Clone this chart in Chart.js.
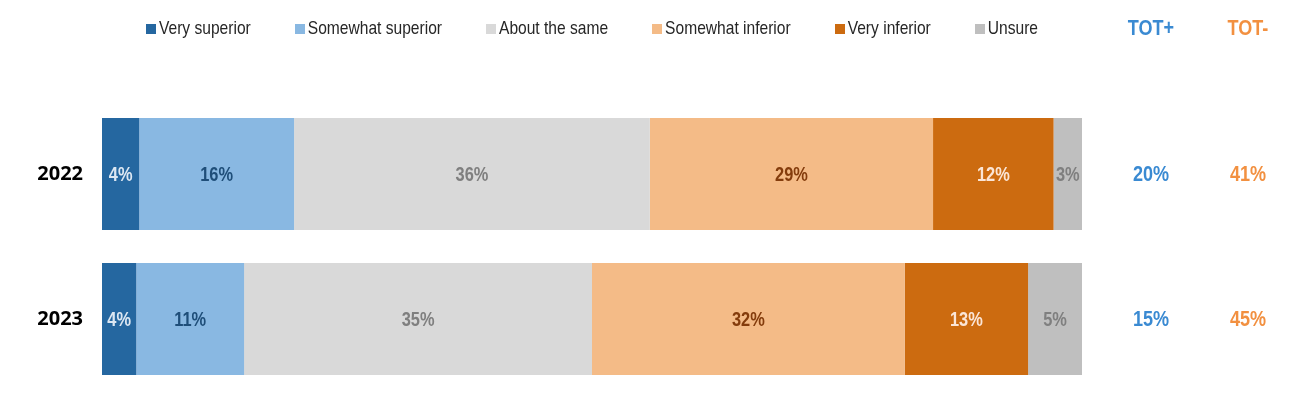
<!DOCTYPE html>
<html>
<head>
<meta charset="utf-8">
<script src="https://cdn.jsdelivr.net/npm/chart.js@4.4.1/dist/chart.umd.min.js"></script>
<style>
  html,body{margin:0;padding:0;background:#fff;}
  #wrap{width:1309px;height:396px;}
</style>
</head>
<body>
<div id="wrap"><canvas id="c" width="1309" height="396"></canvas></div>
<script>
// ---- data ----
const years = ['2022', '2023'];
const seriesNames = ['Very superior', 'Somewhat superior', 'About the same', 'Somewhat inferior', 'Very inferior', 'Unsure'];
const verySuperior     = [3.8, 3.5];
const somewhatSuperior = [15.8, 11.0];
const aboutSame        = [36.3, 35.5];
const somewhatInferior = [28.9, 31.9];
const veryInferior     = [12.3, 12.6];
const unsure           = [2.9, 5.5];
const shownLabels = [
  ['4%', '4%'], ['16%', '11%'], ['36%', '35%'], ['29%', '32%'], ['12%', '13%'], ['3%', '5%']
];
const totPlus  = [20, 15];
const totMinus = [41, 45];

// ---- styles ----
const BASE = '"Liberation Sans", Arial, sans-serif';
const SQUEEZE = 0.82;
const fills = ['#2567a0', '#89b8e2', '#d9d9d9', '#f4bb87', '#cc6b10', '#bfbfbf'];
const labelColors = ['#dce7f2', '#1f4e79', '#7f7f7f', '#843c0c', '#fbe5d6', '#7f7f7f'];
const totPlusColor = '#3a8ad2';
const totMinusColor = '#f29040';

const seriesValues = [verySuperior, somewhatSuperior, aboutSame, somewhatInferior, veryInferior, unsure];

const datasets = seriesValues.map((vals, i) => ({
  label: seriesNames[i],
  data: vals,
  backgroundColor: fills[i],
  borderWidth: 0,
  categoryPercentage: 1.0,
  barPercentage: 0.772
}));

function narrowText(ctx, text, x, y, size, bold, color, align) {
  ctx.save();
  ctx.translate(x, y);
  ctx.scale(SQUEEZE, 1);
  ctx.font = (bold ? 'bold ' : '') + size + 'px ' + BASE;
  ctx.fillStyle = color;
  ctx.textAlign = align;
  ctx.textBaseline = 'middle';
  ctx.fillText(text, 0, 0);
  ctx.restore();
}
function narrowWidth(ctx, text, size, bold) {
  ctx.save();
  ctx.font = (bold ? 'bold ' : '') + size + 'px ' + BASE;
  const w = ctx.measureText(text).width * SQUEEZE;
  ctx.restore();
  return w;
}

const barLabels = {
  id: 'barLabels',
  afterDatasetsDraw(chart) {
    const ctx = chart.ctx;
    chart.data.datasets.forEach((ds, di) => {
      const meta = chart.getDatasetMeta(di);
      meta.data.forEach((bar, i) => {
        const p = bar.getProps(['x', 'base', 'y'], true);
        const cx = (p.x + p.base) / 2;
        narrowText(ctx, shownLabels[di][i], cx, p.y + 1, 20, true, labelColors[di], 'center');
      });
    });
  }
};

const customLegendAndTotals = {
  id: 'customLegendAndTotals',
  afterDraw(chart) {
    const ctx = chart.ctx;
    const area = chart.chartArea;
    // legend
    const box = 10, gapText = 3, gapItem = 44, fs = 19;
    const widths = seriesNames.map(n => box + gapText + narrowWidth(ctx, n, fs, false));
    const total = widths.reduce((a, b) => a + b, 0) + gapItem * (widths.length - 1);
    let x = (area.left + area.right) / 2 - total / 2;
    const ly = 29;
    seriesNames.forEach((n, i) => {
      ctx.fillStyle = fills[i];
      ctx.fillRect(Math.round(x), ly - 5, box, box);
      narrowText(ctx, n, x + box + gapText, ly, fs, false, '#262626', 'left');
      x += widths[i] + gapItem;
    });
    // totals
    const xPlus = 1151, xMinus = 1248;
    narrowText(ctx, 'TOT+', xPlus, ly, 22, true, totPlusColor, 'center');
    narrowText(ctx, 'TOT-', xMinus, ly, 22, true, totMinusColor, 'center');
    const yScale = chart.scales.y;
    years.forEach((y, i) => {
      const py = yScale.getPixelForValue(i) + 1;
      narrowText(ctx, totPlus[i] + '%', xPlus, py, 22, true, totPlusColor, 'center');
      narrowText(ctx, totMinus[i] + '%', xMinus, py, 22, true, totMinusColor, 'center');
    });
  }
};

new Chart(document.getElementById('c'), {
  type: 'bar',
  data: { labels: years, datasets },
  options: {
    indexAxis: 'y',
    responsive: false,
    animation: false,
    layout: { padding: { top: 101.5, bottom: 4.5, left: 0, right: 227 } },
    plugins: { legend: { display: false }, tooltip: { enabled: false } },
    scales: {
      x: { stacked: true, min: 0, max: 100, display: false },
      y: {
        stacked: true,
        grid: { display: false, drawTicks: false },
        border: { display: false },
        ticks: {
          color: '#000',
          padding: 19,
          font: { family: '"Open Sans", sans-serif', weight: 'bold', size: 20 }
        },
        afterFit(scale) {
          scale.width = 102;
          scale.paddingTop = 0;
          scale.paddingBottom = 0;
        }
      }
    }
  },
  plugins: [barLabels, customLegendAndTotals]
});
</script>
</body>
</html>
